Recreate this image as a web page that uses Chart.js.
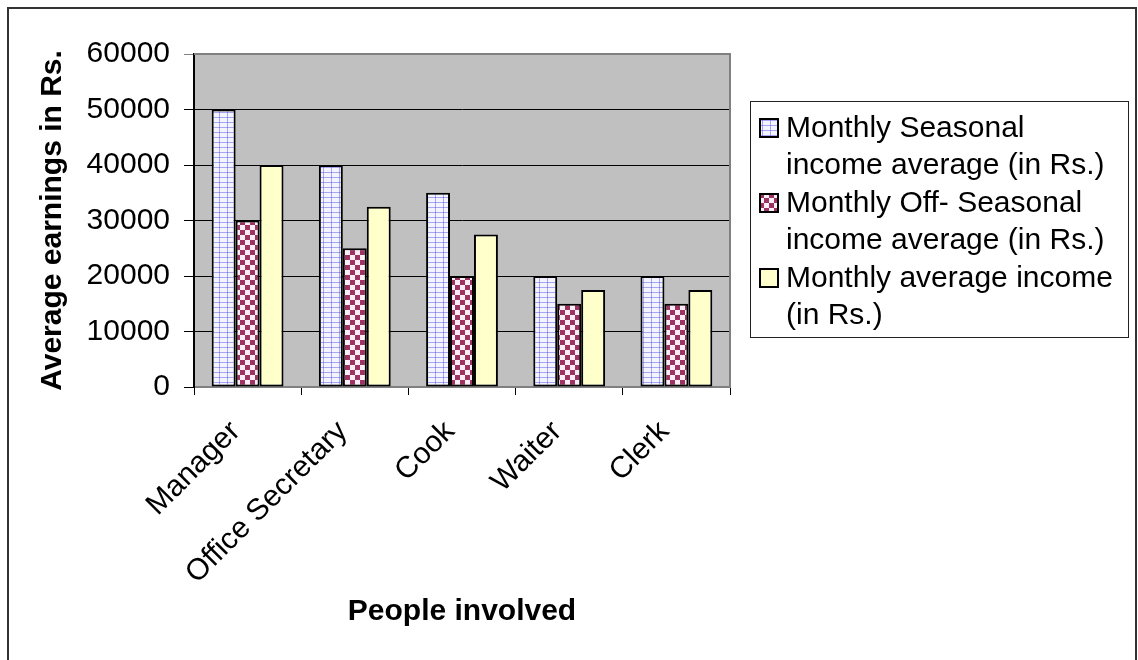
<!DOCTYPE html>
<html>
<head>
<meta charset="utf-8">
<script src="https://cdn.jsdelivr.net/npm/chart.js@4"></script>
<style>
  html, body { margin: 0; padding: 0; background: #fff; }
  #wrap { position: relative; width: 1138px; height: 660px; overflow: hidden; }
  #frame { position: absolute; left: 7px; top: 7px; width: 1130px; height: 670px; border: 2px solid #333; box-sizing: border-box; pointer-events: none; }
  #legend { position: absolute; left: 750px; top: 101px; width: 379px; height: 237px; border: 1.5px solid #222; box-sizing: border-box; background: #fff;
            font-family: "Liberation Sans", Arial, sans-serif; font-size: 30px; color: #000; padding: 6px 0 0 8px; }
  .item { display: flex; align-items: flex-start; line-height: 37px; margin-bottom: 1px; white-space: pre-line; }
  .item canvas { flex: none; margin: 10px 7px 0 0; }
</style>
</head>
<body>
<div id="wrap">
  <canvas id="chart" width="1138" height="660"></canvas>
  <div id="legend"></div>
  <div id="frame"></div>
</div>
<script>
// chart values
const categories = ['Manager', 'Office Secretary', 'Cook', 'Waiter', 'Clerk'];
const seriesNames = [
  'Monthly Seasonal\nincome average (in Rs.)',
  'Monthly Off- Seasonal\nincome average (in Rs.)',
  'Monthly average income\n(in Rs.)'
];
const seasonal = [50000, 40000, 35000, 20000, 20000];
const offSeasonal = [30000, 25000, 20000, 15000, 15000];
const average = [40000, 32500, 27500, 17500, 17500];
const yTicks = [0, 10000, 20000, 30000, 40000, 50000, 60000];

// fill patterns like the old spreadsheet bars
const makeTile = (kind) => {
  const c = document.createElement('canvas');
  const g = c.getContext('2d');
  if (kind === 'plaid') {
    c.width = 8; c.height = 5;
    g.fillStyle = '#F4F4FF';
    g.fillRect(0, 0, 8, 5);
    g.fillStyle = '#A6A6F2';
    g.fillRect(3, 0, 1, 5);
    g.fillRect(0, 2, 8, 1);
    g.fillStyle = '#7E7EE0';
    g.fillRect(3, 2, 1, 1);
  } else if (kind === 'checker') {
    c.width = 10; c.height = 10;
    g.fillStyle = '#FBEFF5';
    g.fillRect(0, 0, 10, 10);
    g.fillStyle = '#9E3263';
    g.fillRect(0, 0, 5, 5);
    g.fillRect(5, 5, 5, 5);
  } else {
    c.width = 2; c.height = 2;
    g.fillStyle = '#FFFFCC';
    g.fillRect(0, 0, 2, 2);
  }
  return c;
};

const canvas = document.getElementById('chart');
const ctx = canvas.getContext('2d');
const kinds = ['plaid', 'checker', 'plain'];
const fills = kinds.map(k => ctx.createPattern(makeTile(k), 'repeat'));

Chart.defaults.font.family = '"Liberation Sans", Arial, sans-serif';
Chart.defaults.color = '#000';

// grey plot background and its border
const plotArea = {
  id: 'plotArea',
  beforeDraw(chart) {
    const { ctx, chartArea: a } = chart;
    ctx.save();
    ctx.fillStyle = '#C0C0C0';
    ctx.fillRect(a.left, a.top, a.right - a.left, a.bottom - a.top);
    ctx.restore();
  },
  beforeDatasetsDraw(chart) {
    const { ctx, chartArea: a } = chart;
    ctx.save();
    ctx.strokeStyle = '#808080';
    ctx.lineWidth = 2;
    ctx.beginPath();
    ctx.moveTo(a.left, a.top);
    ctx.lineTo(a.right, a.top);
    ctx.lineTo(a.right, a.bottom);
    ctx.stroke();
    ctx.restore();
  }
};

const values = [seasonal, offSeasonal, average];
const chart = new Chart(ctx, {
  type: 'bar',
  data: {
    labels: categories,
    datasets: values.map((v, i) => ({
      label: seriesNames[i].replace('\n', ' '),
      data: v,
      backgroundColor: fills[i],
      borderColor: '#000',
      borderWidth: 2,
      borderSkipped: false,
      categoryPercentage: 0.67,
      barPercentage: 1.0
    }))
  },
  options: {
    responsive: false,
    animation: false,
    layout: { padding: { left: 0, top: 54, right: 408, bottom: 0 } },
    plugins: {
      legend: { display: false },
      tooltip: { enabled: false }
    },
    scales: {
      x: {
        afterFit: s => { s.height = 660 - 387; },
        grid: { drawOnChartArea: false, color: '#000', tickLength: 8, offset: true },
        border: { color: '#808080', width: 2 },
        ticks: { font: { size: 30 }, minRotation: 45, maxRotation: 45, autoSkip: false, padding: 19, labelOffset: -12 },
        title: { display: true, text: 'People involved', font: { size: 30, weight: 'bold' }, padding: { top: 0, bottom: 30 } }
      },
      y: {
        min: 0,
        max: 60000,
        afterFit: s => { s.width = 194; },
        afterBuildTicks: s => { s.ticks = yTicks.map(v => ({ value: v })); },
        grid: { color: c => c.tick && c.tick.value === 60000 ? '#808080' : '#000', lineWidth: 1, tickLength: 10 },
        border: { color: '#000', width: 2 },
        ticks: { font: { size: 30 }, padding: 14, callback: v => String(v) },
        title: { display: true, text: 'Average earnings in Rs.', font: { size: 30, weight: 'bold' }, padding: { top: 35, bottom: 0 } }
      }
    }
  },
  plugins: [plotArea]
});

// legend as html, swatches use the same patterns
const legend = document.getElementById('legend');
seriesNames.forEach((name, i) => {
  const item = document.createElement('div');
  item.className = 'item';
  const sw = document.createElement('canvas');
  sw.width = 20; sw.height = 20;
  const g = sw.getContext('2d');
  g.fillStyle = g.createPattern(makeTile(kinds[i]), 'repeat');
  g.fillRect(0, 0, 20, 20);
  g.strokeStyle = '#000';
  g.lineWidth = 2;
  g.strokeRect(1, 1, 18, 18);
  const txt = document.createElement('span');
  txt.textContent = name;
  item.appendChild(sw);
  item.appendChild(txt);
  legend.appendChild(item);
});
</script>
</body>
</html>
